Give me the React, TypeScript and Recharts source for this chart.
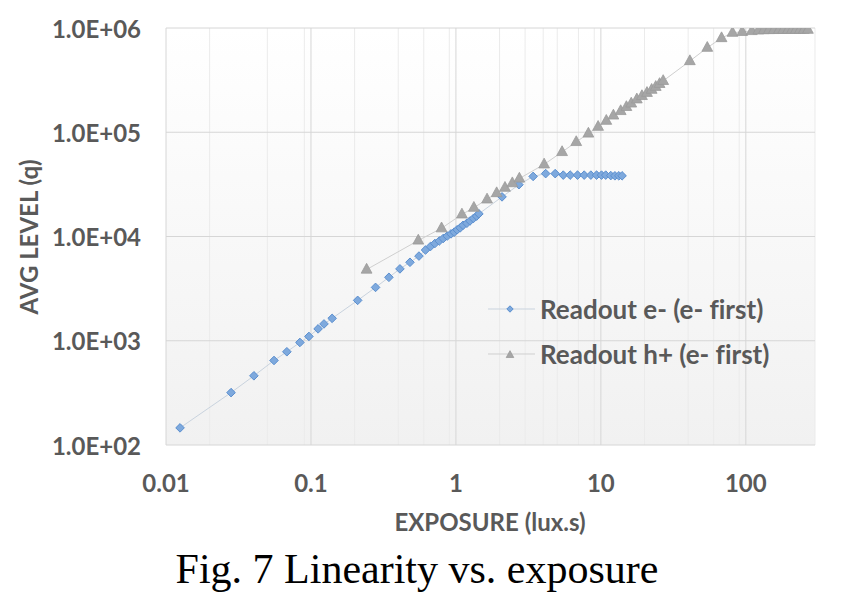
import React from "react";
import {
  ComposedChart, Scatter, XAxis, YAxis, CartesianGrid, Legend,
} from "recharts";

// exposure (lux.s) and average level (q)
const electronX = [
  0.0125, 0.0281, 0.0404, 0.0556, 0.0682, 0.0839, 0.0968, 0.112, 0.123, 0.14,
  0.21, 0.279, 0.345, 0.411, 0.482, 0.556, 0.617, 0.667, 0.716, 0.767,
  0.817, 0.871, 0.925, 0.973, 1.02, 1.07, 1.12, 1.19, 1.25, 1.32,
  1.39, 1.44, 2.08, 2.72, 3.41, 4.16, 4.84, 5.5, 6.14, 6.9,
  7.67, 8.53, 9.34, 10.1, 10.8, 11.7, 12.5, 13.3, 14.0,
];
const electronY = [
  146, 318, 461, 647, 784, 963, 1100, 1300, 1450, 1640,
  2440, 3250, 4060, 4890, 5660, 6490, 7420, 8010, 8570, 9050,
  9570, 10100, 10600, 11000, 11600, 12100, 12800, 13400, 14100, 14900,
  15700, 16500, 24000, 31400, 37700, 40100, 40100, 38800, 38800, 38800,
  38800, 38800, 38800, 38800, 38800, 38400, 38200, 38200, 38200,
];
const holeX = [
  0.242, 0.55, 0.796, 1.1, 1.33, 1.64, 1.91, 2.18, 2.45, 2.74,
  4.06, 5.4, 6.76, 8.2, 9.57, 10.9, 12.2, 13.7, 15.0, 16.2,
  17.7, 19.2, 20.8, 22.4, 23.9, 25.4, 26.9, 41.1, 54.2, 68.0,
  80.9, 94.4, 110, 122, 133, 144, 156, 169, 181, 195,
  208, 221, 236, 251, 268,
];
const holeY = [
  4820, 9160, 12000, 16300, 18900, 22700, 26100, 29400, 32500, 36000,
  49200, 64700, 80700, 97300, 113000, 129000, 145000, 160000, 175000, 189000,
  207000, 223000, 239000, 256000, 273000, 291000, 311000, 482000, 647000, 801000,
  901000, 919000, 936000, 950000, 955000, 957000, 958000, 959000, 960000, 960000,
  961000, 961000, 962000, 962000, 963000,
];

const xTicks = [0.01, 0.1, 1, 10, 100];
const yTicks = [1e2, 1e3, 1e4, 1e5, 1e6];
const xMinor = [
  0.02, 0.03, 0.04, 0.05, 0.06, 0.07, 0.08, 0.09,
  0.2, 0.3, 0.4, 0.5, 0.6, 0.7, 0.8, 0.9,
  2, 3, 4, 5, 6, 7, 8, 9,
  20, 30, 40, 50, 60, 70, 80, 90,
  200, 300,
];

const electron = electronX.map((x, i) => ({ x, y: electronY[i] }));
const hole = holeX.map((x, i) => ({ x, y: holeY[i] }));

const TEXT = "#595959";
const FONT = "Lato, 'Noto Sans', sans-serif";

const Diamond = (p: any) => {
  const { cx, cy, r = 4.3 } = p;
  return (
    <path
      d={`M${cx},${cy - r}L${cx + r},${cy}L${cx},${cy + r}L${cx - r},${cy}Z`}
      fill="#7ea9dd"
      stroke="#5b8fcf"
      strokeWidth={1}
    />
  );
};

const Triangle = (p: any) => {
  const { cx, cy, k = 1 } = p;
  const w = 5.4 * k;
  return (
    <path
      d={`M${cx},${cy - 6.2 * k}L${cx + w},${cy + 3.6 * k}L${cx - w},${cy + 3.6 * k}Z`}
      fill="#a6a6a6"
      stroke="#9a9a9a"
      strokeWidth={0.8}
    />
  );
};

const fmtY = (v: number) => `1.0E+${String(Math.round(Math.log10(v))).padStart(2, "0")}`;

const XTick = ({ x, y, payload }: any) => (
  <text x={x} y={y} dy={29} textAnchor="middle" dominantBaseline="central"
    fill={TEXT} fontFamily={FONT} fontWeight={700} fontSize={24}>
    {payload.value}
  </text>
);

const YTick = ({ x, y, payload }: any) => (
  <text x={x - 17} y={y} textAnchor="end" dominantBaseline="central"
    fill={TEXT} fontFamily={FONT} fontWeight={700} fontSize={24}>
    {fmtY(payload.value)}
  </text>
);

const legendItems = [
  { label: "Readout e- (e- first)", line: "#c9d3de", marker: <Diamond cx={22} cy={10} r={3.2} /> },
  { label: "Readout h+ (e- first)", line: "#cfcfcf", marker: <Triangle cx={22} cy={11} k={0.7} /> },
];

const LegendBox = () => (
  <div style={{ fontFamily: FONT }}>
    {legendItems.map(({ label, line, marker }) => (
      <div key={label} style={{ display: "flex", alignItems: "center", height: 45 }}>
        <svg width={50} height={20} style={{ marginRight: 2 }}>
          <line x1={0} y1={10} x2={47} y2={10} stroke={line} strokeWidth={1} />
          {marker}
        </svg>
        <span style={{ color: TEXT, fontWeight: 700, fontSize: 26, fontVariantLigatures: "none" }}>{label}</span>
      </div>
    ))}
  </div>
);

export default function App() {
  return (
    <div style={{ position: "fixed", left: 0, top: 0, width: 841, height: 592, background: "#fff", overflow: "hidden" }}>
      <ComposedChart
        width={841}
        height={520}
        margin={{ top: 28, right: 26, bottom: 0, left: 0 }}
      >
        <defs>
          <linearGradient id="plotBg" x1="0" y1="0" x2="0" y2="1">
            <stop offset="0%" stopColor="#ffffff" />
            <stop offset="100%" stopColor="#f1f1f1" />
          </linearGradient>
        </defs>
        <CartesianGrid
          fill="url(#plotBg)"
          horizontal={false}
          verticalValues={xMinor}
          stroke="#ebebeb"
          strokeWidth={1}
        />
        <CartesianGrid
          verticalValues={xTicks}
          horizontalValues={yTicks}
          stroke="#d6d6d6"
          strokeWidth={1}
        />
        <XAxis
          type="number"
          dataKey="x"
          scale="log"
          domain={[0.01, 300]}
          ticks={xTicks}
          allowDataOverflow
          axisLine={false}
          tickLine={false}
          height={75}
          tick={<XTick />}
        />
        <YAxis
          type="number"
          dataKey="y"
          scale="log"
          domain={[100, 1e6]}
          ticks={yTicks}
          allowDataOverflow
          axisLine={false}
          tickLine={false}
          width={166}
          tick={<YTick />}
        />
        <Legend
          layout="vertical"
          align="center"
          verticalAlign="middle"
          wrapperStyle={{ left: 488, top: 286, width: 330 }}
          content={<LegendBox />}
        />
        <Scatter
          name="Readout e- (e- first)"
          data={electron}
          line={{ stroke: "#c9d3de", strokeWidth: 1 }}
          lineType="joint"
          shape={<Diamond />}
          isAnimationActive={false}
        />
        <Scatter
          name="Readout h+ (e- first)"
          data={hole}
          line={{ stroke: "#cfcfcf", strokeWidth: 1 }}
          lineType="joint"
          shape={<Triangle />}
          isAnimationActive={false}
        />
      </ComposedChart>

      <div style={{
        position: "absolute", left: 28, top: 237, transform: "translate(-50%, -50%) rotate(-90deg)",
        whiteSpace: "nowrap", color: TEXT, fontFamily: FONT, fontWeight: 700, fontSize: 24,
      }}>
        AVG LEVEL (q)
      </div>
      <div style={{
        position: "absolute", left: 490, top: 521, transform: "translate(-50%, -50%)",
        whiteSpace: "nowrap", color: TEXT, fontFamily: FONT, fontWeight: 700, fontSize: 24,
      }}>
        EXPOSURE (lux.s)
      </div>
      <div style={{
        position: "absolute", left: 417, top: 569, transform: "translate(-50%, -50%)",
        whiteSpace: "nowrap", color: "#000", fontFamily: "'Liberation Serif', 'Times New Roman', serif", fontSize: 42,
      }}>
        Fig. 7 Linearity vs. exposure
      </div>
    </div>
  );
}
